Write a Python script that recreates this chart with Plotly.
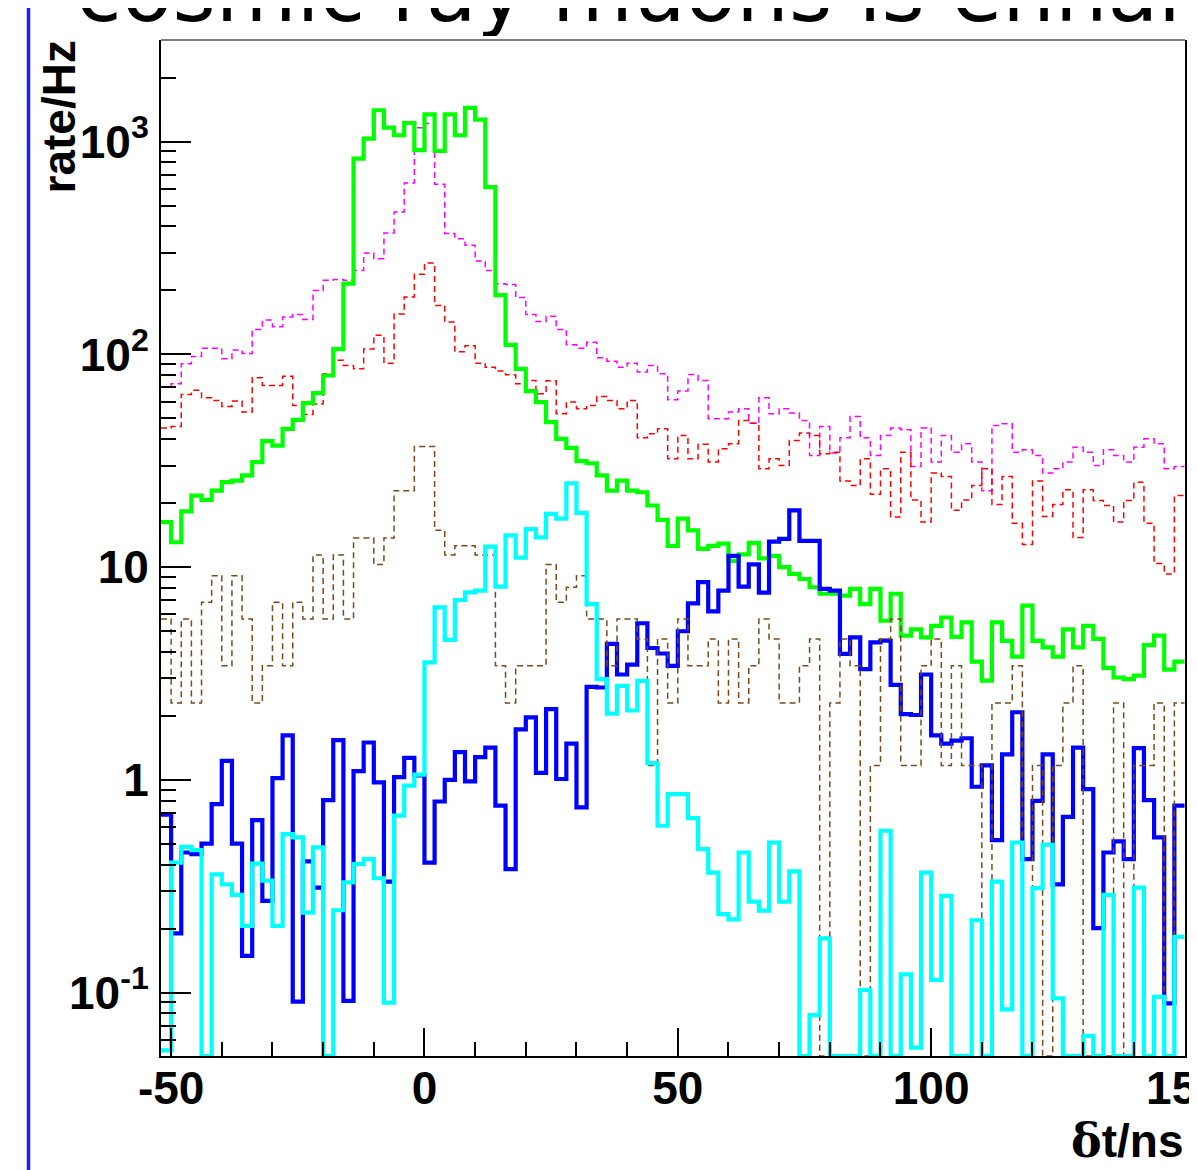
import numpy as np
import plotly.graph_objects as go

# ---------------- data ----------------
bin_edges = list(range(-52, 151, 2))   # 101 bins of 2 ns, -52 .. 150 ns

green = [16.3, 13.1, 18.3, 21.7, 20.7, 22.9, 25.1, 25.5, 27.0, 31.2, 39.1, 37.3, 44.7, 49.3, 59.0, 65.8,
         79.6, 106, 215, 832, 1033, 1405, 1165, 1072, 1224, 912,
         1345, 904, 1345, 1072, 1442, 1271, 612, 190, 111, 85.6, 67.3, 59.7, 48.1, 40.1, 36.4, 31.5,
         30.8, 27.0, 22.9, 25.5, 22.9, 22.5, 19.5, 16.7, 12.6, 16.9,
         14.9, 12.2, 12.6, 12.9, 10.7, 11.5, 13.0, 11.0, 11.3, 10.0, 9.3, 8.8, 8.05, 7.5, 7.5, 7.35,
         7.9, 6.7, 7.9, 5.6, 7.5, 4.77, 5.1, 4.68,
         5.3, 5.8, 4.7, 5.5, 3.6, 2.93, 5.5, 4.5, 3.8, 6.6, 4.5, 4.2, 3.8, 5.1, 4.2, 5.3, 4.6, 3.36,
         3.03, 2.98, 3.09, 4.3, 4.77, 3.3, 3.6]

magenta = [70.2, 72.8, 90.4, 97.9, 107, 107, 95.4, 105, 101, 131, 145, 135, 150, 154, 146, 200,
           223, 225, 223, 248, 300, 282, 372, 467, 640, 1164,
           1216, 631, 370, 350, 326, 275, 248, 215, 213, 185, 154, 143, 151, 131, 111, 107, 114,
           96.4, 93.0, 87.1, 91.0, 82.6, 88.8, 81.1, 61.2, 67.3,
           80.5, 75.5, 49.8, 49.8, 53.6, 55.5, 47.5, 62.5, 52.6, 55.5, 53.0, 48.9, 33.5, 45.8, 34.4,
           40.6, 51.1, 40.6, 33.5, 41.6, 45.1, 44.3, 29.7, 45.1, 31.2,
           41.6, 34.7, 38.0, 31.2, 22.9, 46.4, 47.2, 34.7, 35.6, 33.5, 27.7, 29.0, 31.2, 36.6, 34.7,
           30.1, 35.6, 33.5, 31.2, 36.6, 40.1, 38.0, 29.0, 29.7]

red = [45.1, 45.8, 64.9, 67.8, 62.5, 60.8, 57.0, 60.4, 53.6, 77.7, 71.5, 71.5, 78.9, 57.6, 52.2, 58.5,
       81.1, 93.8, 88.8, 85.6, 106, 123, 91, 155, 186, 238,
       269, 170, 142, 103, 110, 91, 87.1, 83.6, 80.2, 72.8, 75.5, 65.3, 75.2, 52.6, 59.7, 55.5, 57.6,
       63.5, 60.8, 55.5, 60.8, 40.6, 42.4, 44.7, 32.3, 41.6,
       32.3, 37.8, 31.2, 36.0, 38.0, 48.9, 47.5, 29.0, 32.3, 30.1, 39.4, 42.7, 41.6, 34.1, 34.7, 25.4,
       24.2, 32.3, 22.0, 29.0, 17.2, 34.7, 20.7, 16.3, 27.7, 26.7,
       18.5, 20.7, 24.2, 29.0, 19.7, 26.7, 16.1, 12.8, 25.4, 17.3, 19.7, 23.1, 13.8, 23.1, 20.6, 19.5,
       16.3, 20.6, 25.1, 16.1, 10.4, 9.3, 21.7]

brown = [5.71, 2.30, 5.71, 2.30, 6.84, 9.12, 3.44, 9.12, 5.71, 2.30, 3.44, 6.84, 3.44, 6.84, 5.71, 11.4,
         5.71, 11.4, 5.71, 13.7, 13.7, 10.3, 13.7, 22.9, 22.9,
         36.9, 36.9, 14.9, 11.4, 12.6, 12.6, 11.4, 11.4, 3.44, 2.30, 3.44, 3.44, 3.44, 10.3, 6.84, 8.04,
         9.12, 5.71, 5.71, 3.44, 5.71, 5.71, 4.60, 1.17, 4.60, 2.30, 5.71,
         3.44, 3.44, 4.60, 2.30, 4.60, 2.30, 3.44, 5.71, 4.60, 2.30, 2.30, 3.44, 4.60, 0, 2.30, 4.60,
         3.44, 0, 1.17, 4.60, 5.71, 1.17, 1.17, 3.44, 4.60,
         1.17, 3.44, 1.17, 1.17, 0, 2.30, 2.30, 3.44, 0, 1.17, 0, 1.17, 2.30, 3.44, 0, 0, 0, 2.30, 0,
         1.17, 1.17, 2.30, 0, 2.30]

blue = [0.686, 0.190, 0.456, 0.448, 0.502, 0.769, 1.23, 0.502, 0.149, 0.647, 0.270, 1.02, 1.62, 0.0908,
        0.414, 0.312, 0.803, 1.54, 0.0915, 1.10, 1.50, 0.973, 0.333, 1.03, 1.27, 1.05,
        0.409, 0.792, 1.0, 1.35, 0.985, 1.28, 1.42, 0.757, 0.381, 1.73, 1.97, 1.08, 2.15, 1.01, 1.48,
        0.743, 2.74, 2.72, 4.36, 3.13, 3.48, 5.45, 4.17, 3.93, 3.44, 5.0,
        6.76, 8.5, 6.2, 7.76, 11.3, 8.1, 10.3, 7.6, 13.2, 13.6, 18.5, 13.3, 13.3, 7.9, 7.76, 3.91,
        4.68, 3.32, 4.43, 4.52, 2.80, 2.04, 2.02, 3.13, 1.62,
        1.48, 1.53, 1.57, 0.929, 1.17, 0.521, 1.32, 2.08, 0.424, 0.798, 1.32, 0.323, 0.671, 1.42,
        0.906, 0.201, 0.456, 0.514, 0.424, 1.41, 0.803, 0.537, 0.089, 0.757]

cyan = [0.0536, 0.409, 0.485, 0.468, 0, 0.360, 0.323, 0.288, 0.206, 0.404, 0.336, 0.206, 0.556, 0.537,
        0.238, 0.482, 0, 0.244, 0.330, 0.402, 0.424, 0.345, 0.0897, 0.679, 0.940, 1.06,
        3.57, 6.48, 4.55, 7.01, 7.62, 7.76, 12.5, 8.1, 14.1, 11.1, 15.1, 13.8, 17.8, 16.9, 24.8, 18.0,
        6.71, 2.98, 2.05, 2.77, 2.12, 2.92, 1.20, 0.609, 0.857, 0.857,
        0.662, 0.473, 0.367, 0.234, 0.221, 0.456, 0.268, 0.243, 0.508, 0.268, 0.372, 0, 0.0785, 0.180,
        0, 0, 0, 0.103, 0, 0.577, 0, 0.122, 0.0552, 0.367, 0.115,
        0.285, 0, 0, 0.219, 0, 0.333, 0.0835, 0.508, 0, 0.310, 0.496, 0.0941, 0, 0, 0.0627, 0, 0.288,
        0, 0, 0.312, 0, 0.0955, 0, 0.183]

x_tick_vals = [-50, 0, 50, 100, 150]
x_tick_text = ["-50", "0", "50", "100", "150"]
y_tick_vals = [0.1, 1, 10, 100, 1000]
y_tick_text = ["10<sup>-1</sup>", "1", "10", "10<sup>2</sup>", "10<sup>3</sup>"]

title_text = "cosmic ray muons is enhanced"
x_title = "<span style=\"font-family:'DejaVu Serif', serif\">δ</span>t/ns"
y_title = "rate/Hz"

# ---------------- figure ----------------
# the page body adds an 8 px margin, so figure pixel = screen pixel - 8
W, H = 1189, 1162
L, R, T, B = 153, 1177, 32, 1048   # plot frame in figure pixels
Y_MIN, Y_MAX = 0.0504, 3006

edges = np.array(bin_edges, dtype=float)


def step_trace(vals, color, width, dash=None):
    y = np.array(list(vals) + [vals[-1]], dtype=float)
    y = np.where(y > 0, y, Y_MIN)   # empty bins are drawn on the frame bottom (as ROOT does)
    return go.Scatter(x=edges, y=y, mode="lines",
                      line=dict(shape="hv", color=color, width=width, dash=dash),
                      hoverinfo="skip", showlegend=False)


fig = go.Figure()
dash = "6px,4px"
fig.add_trace(step_trace(magenta, "#ff00ff", 1.5, dash))
fig.add_trace(step_trace(red, "#ff0000", 1.5, dash))
fig.add_trace(step_trace(green, "#00ff00", 4.2, None))
fig.add_trace(step_trace(blue, "#0000ff", 4.2, None))
fig.add_trace(step_trace(brown, "#7a4a1c", 1.5, dash))
fig.add_trace(step_trace(cyan, "#00ffff", 4.2, None))

# big slide title, clipped by its own strip
fig.add_trace(go.Scatter(x=[68], y=[-8], mode="text", text=[title_text],
                         textposition="middle right", cliponaxis=True,
                         textfont=dict(family="DejaVu Sans", size=83, color="black"),
                         xaxis="x3", yaxis="y3", hoverinfo="skip", showlegend=False))

minor_x = [v for v in range(-50, 151, 10) if v % 50 != 0]
minor_y = []
for dec in [0.01, 0.1, 1, 10, 100, 1000]:
    for m in range(2, 10):
        v = m * dec
        if Y_MIN * 1.002 < v < Y_MAX:
            minor_y.append(v)

tick_font = dict(family="Liberation Sans, Arial, sans-serif", size=46, color="black", weight="bold")

fig.update_layout(
    width=W, height=H,
    margin=dict(l=0, r=0, t=0, b=0),
    paper_bgcolor="white", plot_bgcolor="white",
    template="none",
    showlegend=False,
    xaxis=dict(domain=[L / W, R / W], range=[-52, 150.1], showgrid=False, zeroline=False,
               showline=True, linecolor="black", linewidth=2,
               ticks="inside", ticklen=28, tickwidth=1.5, tickcolor="black",
               tickmode="array", tickvals=x_tick_vals, ticktext=x_tick_text,
               tickfont=tick_font, ticklabelstandoff=-9, ticklabeloverflow="allow",
               minor=dict(tickmode="array", tickvals=minor_x, ticks="inside", ticklen=14,
                          tickwidth=1.5, tickcolor="black", showgrid=False),
               anchor="y"),
    yaxis=dict(domain=[1 - B / H, 1 - T / H], type="log",
               range=[np.log10(Y_MIN), np.log10(Y_MAX)], showgrid=False, zeroline=False,
               showline=True, linecolor="black", linewidth=2, mirror=True,
               ticks="inside", ticklen=30, tickwidth=1.5, tickcolor="black",
               tickmode="array", tickvals=y_tick_vals, ticktext=y_tick_text,
               tickfont=tick_font, ticklabelstandoff=1, ticklabeloverflow="allow",
               minor=dict(tickmode="array", tickvals=minor_y, ticks="inside", ticklen=15,
                          tickwidth=1.5, tickcolor="black", showgrid=False),
               anchor="x"),
    xaxis3=dict(domain=[0, 1], range=[0, W], visible=False, anchor="y3", fixedrange=True),
    yaxis3=dict(domain=[1 - 28 / H, 1], range=[28, 0], visible=False, anchor="x3", fixedrange=True),
)

# frame top (grey) and slide's blue bar
fig.add_shape(type="line", xref="paper", yref="paper", x0=L / W, x1=R / W,
              y0=1 - T / H, y1=1 - T / H, line=dict(color="#555555", width=1.5))
fig.add_shape(type="line", xref="paper", yref="paper", x0=20.5 / W, x1=20.5 / W,
              y0=0, y1=1, line=dict(color="#1c1cff", width=3.5))

fig.add_annotation(text=x_title, xref="paper", yref="paper", x=R / W, y=1 - 1133 / H,
                   xanchor="right", yanchor="middle", showarrow=False,
                   font=dict(family="Liberation Sans, Arial, sans-serif", size=46,
                             color="black", weight="bold"))
fig.add_annotation(text=y_title, xref="paper", yref="paper", x=51 / W, y=1 - 109.5 / H,
                   xanchor="center", yanchor="middle", showarrow=False, textangle=-90,
                   font=dict(family="Liberation Sans, Arial, sans-serif", size=46,
                             color="black", weight="bold"))

fig.write_html("out.html")
